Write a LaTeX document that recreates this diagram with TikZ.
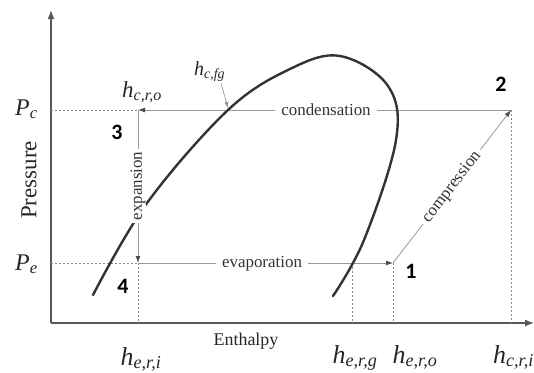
\documentclass[tikz,border=0pt]{standalone}
\usepackage{amsmath}
\usepackage{fontspec}
\setmainfont{Liberation Serif}
\newfontfamily\numfont{Carlito}
\usetikzlibrary{arrows.meta}
\newcommand\hlab[2]{$\textit{#1}_{\textit{#2}}$}
\newcommand\fs[1]{\fontsize{#1}{#1}\selectfont}
\begin{document}
\begin{tikzpicture}[x=1bp,y=-1bp,
  axis/.style={draw=black!65,line width=1.3bp,-{Latex[length=9bp,width=7bp]}},
  dotline/.style={draw=black!45,line width=0.7bp,dash pattern=on 2bp off 2bp},
  proc/.style={draw=black!40,line width=0.8bp,-{Latex[length=7bp,width=5bp,color=black!70]}},
  dome/.style={draw=black!80,line width=2.4bp,line cap=round},
  plab/.style={fill=white,text=black!80,inner xsep=6bp,inner ysep=1bp,font=\fs{17}},
  numlab/.style={font=\numfont\bfseries\fs{22},inner sep=0},
  hl/.style={inner sep=0,text=black!85}]
\useasboundingbox (0,0) rectangle (534,372);
% coordinates
\coordinate (O) at (51,323);
\coordinate (ytop) at (51,10);
\coordinate (xend) at (534,323);
\coordinate (p1) at (393,263);
\coordinate (p2) at (511,110);
\coordinate (p3) at (138,110);
\coordinate (p4) at (138,263);
\coordinate (pc) at (51,110);
\coordinate (pe) at (51,263);
\coordinate (g) at (352,263);
\coordinate (f4) at (138,323);
\coordinate (fg) at (352,323);
\coordinate (f1) at (393,323);
\coordinate (f2) at (511,323);
\coordinate (cf) at (228,108);
\coordinate (cfs) at (221,83);
% axes
\draw[axis] (O) -- (ytop);
\draw[axis] (O) -- (xend);
% dotted guides
\draw[dotline] (pc) -- (p3);
\draw[dotline] (pe) -- (p4);
\draw[dotline] (p4) -- (f4);
\draw[dotline] (g) -- (fg);
\draw[dotline] (p1) -- (f1);
\draw[dotline] (p2) -- (f2);
% processes
\draw[proc] (p2) -- (p3);
\draw[proc] (p3) -- (p4);
\draw[proc] (p4) -- (p1);
\draw[proc] (p1) -- (p2);
% dome
\draw[dome] plot[smooth,tension=0.6] coordinates {(93,295) (147,203) (228,110) (290,69) (340,56) (388,86) (396,140) (364,240) (333,296)};
% process labels
\node[plab] (lcond) at (326,110) {condensation};
\node[plab] (levap) at (262,264) {evaporation};
\node[plab,rotate=90,inner xsep=3bp] (lexp) at (138,186) {expansion};
\node[plab,rotate=52.4,inner xsep=4bp] (lcomp) at (452,187) {compression};
% numbers
\node[numlab] (n1) at (411,271) {1};
\node[numlab] (n2) at (501,84) {2};
\node[numlab] (n3) at (117,132) {3};
\node[numlab] (n4) at (123,286) {4};
% axis labels
\node[hl,anchor=base west,font=\fs{24}] (lpc) at (15,115) {\hlab{P}{c}};
\node[hl,anchor=base west,font=\fs{24}] (lpe) at (15,270) {\hlab{P}{e}};
\node[hl,rotate=90,font=\fs{23}] (lpres) at (29,180) {Pressure};
\node[hl,font=\fs{18}] (lenth) at (246,341) {Enthalpy};
% enthalpy labels
\node[hl,anchor=base,font=\fs{26}] (heri) at (141,365) {\hlab{h}{e,r,i}};
\node[hl,anchor=base,font=\fs{26}] (herg) at (355,363) {\hlab{h}{e,r,g}};
\node[hl,anchor=base,font=\fs{26}] (hero) at (415,363) {\hlab{h}{e,r,o}};
\node[hl,anchor=base west,font=\fs{26}] (hcri) at (493,363) {\hlab{h}{c,r,i}};
\node[hl,anchor=base west,font=\fs{23}] (hcro) at (122,97) {\hlab{h}{c,r,o}};
\node[hl,anchor=base west,font=\fs{20}] (hcfg) at (194,75) {\hlab{h}{c,fg}};
\draw[draw=black!45,line width=0.6bp,-{Latex[length=6bp,width=4bp]}] (cfs) -- (cf);
\end{tikzpicture}
\end{document}
